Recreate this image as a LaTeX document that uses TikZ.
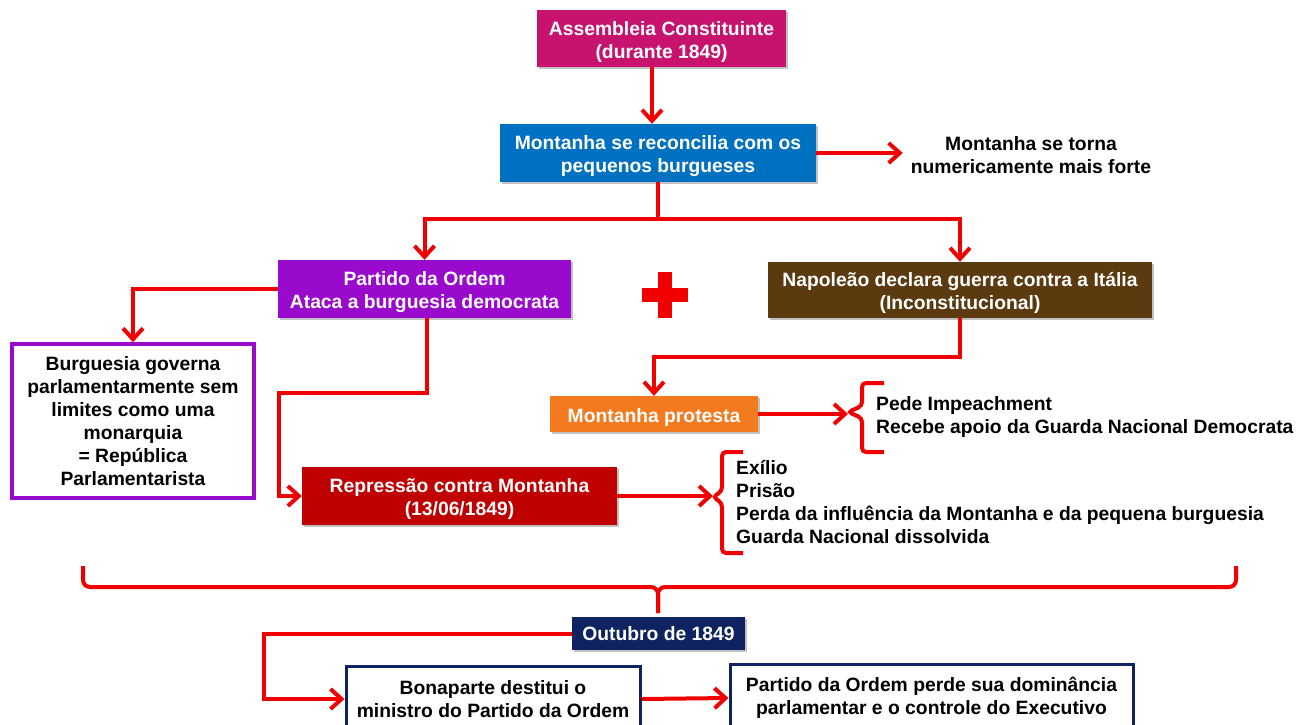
\documentclass[tikz,border=0pt]{standalone}
\usepackage{fontspec}
\setmainfont{Liberation Sans}
\usetikzlibrary{arrows.meta,shadows,calc}

\definecolor{asmcol}{HTML}{C8136E}
\definecolor{bluecol}{HTML}{0070C0}
\definecolor{purplecol}{HTML}{9A0ACC}
\definecolor{browncol}{HTML}{5C3A0F}
\definecolor{darkredcol}{HTML}{C00000}
\definecolor{orangecol}{HTML}{F47A20}
\definecolor{navycol}{HTML}{0F2360}
\definecolor{linkred}{HTML}{F20000}

% extra room above the first line of a filled box
\newcommand\topstrut{\rule{0pt}{20pt}}

\tikzset{
  x=1pt, y=-1pt,
  txt/.style={font=\fontsize{19.3}{23}\selectfont\bfseries, align=center, inner sep=0pt},
  filledbox/.style={txt, text=white, fill=#1, minimum height=58pt,
    drop shadow={shadow xshift=2pt, shadow yshift=-2pt, opacity=0.35, fill=black!70}},
  framedbox/.style={txt, text=black, fill=white, draw=#1, line width=3.5pt},
  plain/.style={txt, text=black},
  listtxt/.style={txt, text=black, align=left, anchor=west},
  arr/.style={draw=linkred, line width=4pt, -{Straight Barb[length=11pt,width=20pt]}},
  bracket/.style={draw=linkred, line width=4pt, rounded corners=4pt},
}

\begin{document}
\begin{tikzpicture}
\clip (0,0) rectangle (1296,724);

% boxes
\node[filledbox=asmcol, minimum width=249pt, minimum height=57pt] (asm) at (661.5,38.5)
  {\topstrut Assembleia Constituinte\\(durante 1849)};
\node[filledbox=bluecol, minimum width=316pt] (mont) at (658,153)
  {\topstrut Montanha se reconcilia com os\\pequenos burgueses};
\node[plain] (torna) at (1031,155) {Montanha se torna\\numericamente mais forte};

\node[filledbox=purplecol, minimum width=293pt] (pdo) at (424.5,289)
  {\topstrut Partido da Ordem\\Ataca a burguesia democrata};
\node[filledbox=browncol, minimum width=384pt, minimum height=56pt] (nap) at (960,290)
  {\topstrut Napoleão declara guerra contra a Itália\\(Inconstitucional)};

% plus sign between the two branches
\fill[linkred] (642,288) rectangle (688,302);
\fill[linkred] (658,272) rectangle (672,318);

\node[framedbox=purplecol, minimum width=242pt, minimum height=154pt] (burg) at (133,421)
  {Burguesia governa\\parlamentarmente sem\\limites como uma\\monarquia\\= República\\Parlamentarista};

\node[filledbox=orangecol, minimum width=208pt, minimum height=36pt] (prot) at (654,414)
  {\topstrut Montanha protesta};
\node[listtxt] (list1) at (876,417) {Pede Impeachment\\Recebe apoio da Guarda Nacional Democrata};

\node[filledbox=darkredcol, minimum width=315pt] (rep) at (459.5,496)
  {\topstrut Repressão contra Montanha\\(13/06/1849)};
\node[listtxt] (list2) at (736,502)
  {Exílio\\Prisão\\Perda da influência da Montanha e da pequena burguesia\\Guarda Nacional dissolvida};

\node[filledbox=navycol, minimum width=173pt, minimum height=33pt] (outu) at (658.5,633.5)
  {Outubro de 1849};
\node[framedbox=navycol, line width=3pt, minimum width=294pt, minimum height=66pt] (bona) at (493,699)
  {Bonaparte destitui o\\ministro do Partido da Ordem};
\node[framedbox=navycol, line width=3pt, minimum width=403pt, minimum height=68pt] (perde) at (931.5,698)
  {Partido da Ordem perde sua dominância\\parlamentar e o controle do Executivo};

% bracket tips and helper points
\coordinate (c1) at (652,0);
\coordinate (tip1) at (848,412);
\coordinate (tip2) at (713,497);
\coordinate (bend) at (279,393);
\coordinate (bracetip) at (658,613);

% connectors
\draw[arr] (asm.south -| c1) -- (mont.north -| c1);
\draw[arr, shorten >=8pt] (mont.east) -- (mont.east -| torna.west);
\draw[arr] (mont.south) -- ++(0,37) -| (pdo.north);
\draw[arr] (mont.south) -- ++(0,37) -| (nap.north);
\draw[arr] (pdo.west) -| (burg.north);
\draw[arr] ([xshift=2pt]pdo.south) |- (bend) |- (rep.west);
\draw[arr] (nap.south) -- ++(0,39) -| (prot.north);
\draw[arr] (prot.east) -- (prot.east -| tip1);
\draw[arr] (rep.east) -- (rep.east -| tip2);
\draw[arr] (outu.west) -| ([xshift=-81pt]bona.west) -- (bona.west);
\draw[arr] (bona.east) -- (perde.west);

% brackets
\draw[bracket] (884,383) -- (862,383) -- (862,406) -- (tip1) -- (862,418) -- (862,452) -- (884,452);
\draw[bracket] (743,452) -- (722,452) -- (722,491) -- (tip2) -- (722,503) -- (722,553) -- (743,553);
\draw[bracket, rounded corners=7pt] (83,566) -- (83,587) -- (658,587) -- (bracetip);
\draw[bracket, rounded corners=7pt] (1236,566) -- (1236,587) -- (658,587) -- (bracetip);
\end{tikzpicture}
\end{document}
